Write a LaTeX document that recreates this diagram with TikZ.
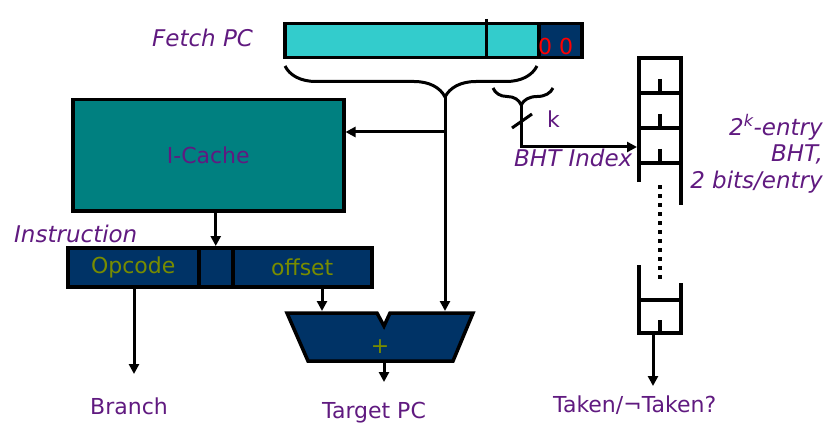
\documentclass[tikz,border=0pt]{standalone}
\usepackage{fontspec}
\setmainfont{DejaVu Sans}
\usetikzlibrary{arrows.meta,positioning,decorations.pathreplacing}

\definecolor{pccyan}{RGB}{51,204,204}
\definecolor{darknavy}{RGB}{0,51,102}
\definecolor{cacheteal}{RGB}{0,128,128}
\definecolor{labelpurple}{RGB}{96,26,128}
\definecolor{fieldolive}{RGB}{120,140,0}

\begin{document}
\begin{tikzpicture}[x=1pt,y=-1pt]
\tikzset{
  fieldbox/.style={draw=black,line width=3.5pt,inner sep=0pt,anchor=north west},
  wire/.style={draw=black,line width=3pt},
  arrowwire/.style={wire,-{Triangle[length=10pt,width=10pt]}},
  bhtline/.style={draw=black,line width=3.5pt},
  lbl/.style={font=\fontsize{22}{26}\selectfont,text=labelpurple,inner sep=0pt},
  itlbl/.style={font=\fontsize{23}{26.5}\selectfont\itshape,text=labelpurple,inner sep=0pt},
  fieldlbl/.style={font=\fontsize{22}{26}\selectfont,text=fieldolive},
  bracewire/.style={wire,decorate}
}
\useasboundingbox (0,0) rectangle (838,433);
% fetch PC register
\node[itlbl,anchor=base west] (n_fetch) at (152,47) {Fetch PC};
\node[fieldbox,fill=pccyan,minimum width=254,minimum height=34] (n_pc) at (283,22) {};
\node[fieldbox,fill=darknavy,minimum width=43,minimum height=34] (n_pclow) at (537,22) {};
\node[anchor=base west,inner sep=0pt,text=red,font=\fontsize{22}{24}\selectfont] (n_zeros) at (538,55) {0 0};
\draw[wire] (486,19) -- (486,56);
% braces
\draw[bracewire,decoration={brace,mirror,amplitude=31pt,aspect=0.635}] (285,66) -- (537,66);
\draw[bracewire,decoration={brace,mirror,amplitude=17pt,aspect=0.47}] (493,88) -- (553,88);
\coordinate (c_tip) at (445,97);
\coordinate (c_ktip) at (521,105);
\coordinate (c_split) at (445,132);
% I-cache and instruction
\node[fieldbox,fill=cacheteal,minimum width=271,minimum height=111,lbl] (n_icache) at (71,98) {I-Cache};
\node[itlbl,anchor=base west] (n_instr) at (14,242) {Instruction};
\node[fieldbox,fill=darknavy,minimum width=131,minimum height=39,fieldlbl] (n_opcode) at (66,246) {Opcode};
\node[fieldbox,fill=darknavy,minimum width=34,minimum height=39] (n_mid) at (197,246) {};
\node[fieldbox,fill=darknavy,minimum width=139,minimum height=39,fieldlbl] (n_offset) at (231,246) {offset};
% adder
\coordinate (c_addinl) at (322,311);
\coordinate (c_addinr) at (445,311);
\coordinate (c_addout) at (384,361);
\filldraw[fill=darknavy,draw=black,line width=3.5pt,line join=miter]
  (287,313) -- (377,313) -- (384,326) -- (390,313) -- (473,313) -- (453,361) -- (308,361) -- cycle;
\node[fieldlbl,inner sep=0pt] (n_plus) at (380,347) {+};
% BHT
\draw[bhtline] (639,182) -- (639,58) -- (681,58) -- (681,205);
\foreach \y in {93,128,163} {
  \draw[bhtline] (639,\y) -- (681,\y);
  \draw[bhtline] (660,\y-14) -- (660,\y);
}
\draw[line width=4pt,dash pattern=on 4pt off 5pt] (660,185) -- (660,279);
\draw[bhtline] (639,265) -- (639,333) -- (681,333) -- (681,283);
\draw[bhtline] (639,300) -- (681,300);
\draw[bhtline] (660,320) -- (660,333);
\coordinate (c_bhtin) at (637,147);
\coordinate (c_bhtout) at (653,333);
% connectors
\draw[arrowwire] (c_split) -- (n_icache.east |- c_split);
\draw[wire] (c_tip) -- (c_split);
\draw[arrowwire] (c_split) -- (c_addinr);
\draw[arrowwire] (n_icache.south -| n_mid.north) -- (n_mid.north);
\coordinate (c_branch) at (134,374);
\coordinate (c_target) at (384,382);
\coordinate (c_taken) at (653,386);
\draw[arrowwire] (n_opcode.south -| c_branch) -- (c_branch);
\draw[arrowwire] (n_offset.south -| c_addinl) -- (c_addinl);
\draw[arrowwire] (c_addout) -- (c_target);
\draw[arrowwire] (c_ktip) |- (c_bhtin);
\draw[wire] (512,128) -- (532,114);
\draw[arrowwire] (c_bhtout) -- (c_taken);
% labels
\node[lbl,anchor=base west] (n_k) at (547,128) {k};
\node[itlbl,anchor=base west] (n_bhtidx) at (514,167) {BHT Index};
\node[itlbl,align=right,anchor=north east] (n_bhtnote) at (823,114) {2\textsuperscript{k}-entry\\BHT,\\2 bits/entry};
\node[lbl,anchor=base west] (n_branch) at (90,414) {Branch};
\node[lbl,anchor=base west] (n_target) at (322,418) {Target PC};
\node[lbl,anchor=base west] (n_taken) at (553,412) {Taken/¬Taken?};
\end{tikzpicture}
\end{document}
